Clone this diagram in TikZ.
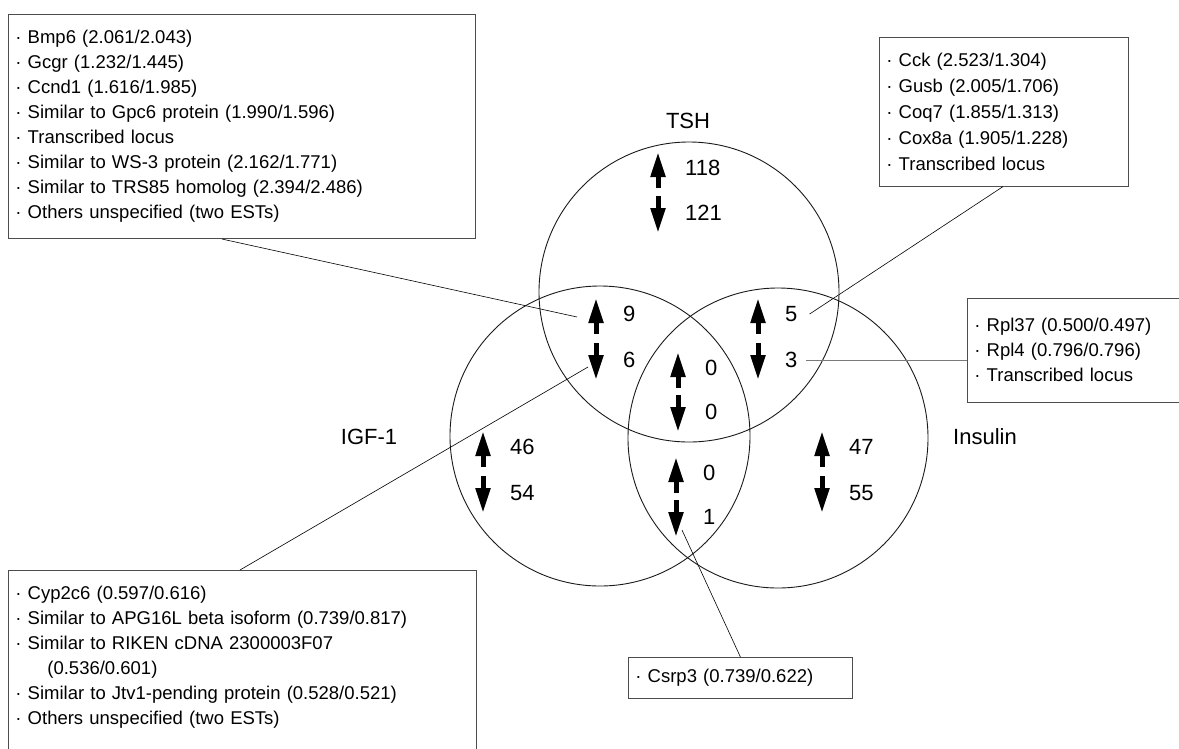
\documentclass[tikz,border=0pt]{standalone}
\usepackage{fontspec}
\setmainfont{Liberation Sans}
\usetikzlibrary{arrows.meta,positioning}
\definecolor{VennLine}{HTML}{1A1A1A}
\definecolor{BoxLine}{HTML}{4D4D4D}
\definecolor{LeadGray}{HTML}{7A7A7A}
\tikzset{
  vennset/.style={circle, draw=VennLine, line width=0.9pt, minimum size=300pt, inner sep=0pt},
  setname/.style={font=\fontsize{22}{26}\selectfont},
  tally/.style={font=\fontsize{22}{26}\selectfont, inner sep=0pt, anchor=west},
  trend/.style={line width=5pt, -{Triangle[width=14pt,length=25pt]}},
  genes/.style={draw=BoxLine, line width=0.8pt, anchor=north west, align=left,
                inner xsep=7pt, inner ysep=16pt, font=\fontsize{18.5}{25}\selectfont},
  leader/.style={draw=black, line width=0.6pt},
}

\begin{document}
\begin{tikzpicture}[x=1pt,y=-1pt]
    \clip (0,0) rectangle (1179,748);
    % the three sets
    \node[vennset] (tsh) at (689,292) {};
    \node[vennset] (igf) at (600,436) {};
    \node[vennset] (ins) at (778,438) {};
    \node[setname] (tshName) at (688,121) {TSH};
    \node[setname] (igfName) at (369,437) {IGF-1};
    \node[setname] (insName) at (985,437) {Insulin};

    % up / down counts per region
    \node[tally] (tshUp) at (685,168) {118};
    \node[tally] (tshDn) at (685,213) {121};
    \node[tally] (tiUp) at (623,314) {9};
    \node[tally] (tiDn) at (623,360) {6};
    \node[tally] (tsUp) at (785,314) {5};
    \node[tally] (tsDn) at (785,360) {3};
    \node[tally] (allUp) at (705,368) {0};
    \node[tally] (allDn) at (705,412) {0};
    \node[tally] (isUp) at (703,473) {0};
    \node[tally] (isDn) at (703,517) {1};
    \node[tally] (igfUp) at (510,447) {46};
    \node[tally] (igfDn) at (510,493) {54};
    \node[tally] (insUp) at (849,447) {47};
    \node[tally] (insDn) at (849,493) {55};

    \draw[trend] ([xshift=-27pt,yshift=-20pt]tshUp.west) -- ++(0,-36);
    \draw[trend] ([xshift=-27pt,yshift=17pt]tshDn.west) -- ++(0,37);
    \draw[trend] ([xshift=-27pt,yshift=-20pt]tiUp.west) -- ++(0,-36);
    \draw[trend] ([xshift=-27pt,yshift=17pt]tiDn.west) -- ++(0,37);
    \draw[trend] ([xshift=-27pt,yshift=-20pt]tsUp.west) -- ++(0,-36);
    \draw[trend] ([xshift=-27pt,yshift=17pt]tsDn.west) -- ++(0,37);
    \draw[trend] ([xshift=-27pt,yshift=-20pt]allUp.west) -- ++(0,-36);
    \draw[trend] ([xshift=-27pt,yshift=17pt]allDn.west) -- ++(0,37);
    \draw[trend] ([xshift=-27pt,yshift=-20pt]isUp.west) -- ++(0,-36);
    \draw[trend] ([xshift=-27pt,yshift=17pt]isDn.west) -- ++(0,37);
    \draw[trend] ([xshift=-27pt,yshift=-20pt]igfUp.west) -- ++(0,-36);
    \draw[trend] ([xshift=-27pt,yshift=17pt]igfDn.west) -- ++(0,37);
    \draw[trend] ([xshift=-27pt,yshift=-20pt]insUp.west) -- ++(0,-36);
    \draw[trend] ([xshift=-27pt,yshift=17pt]insDn.west) -- ++(0,37);

    % gene lists
    \node[genes,text width=453pt] (tshBox) at (8,14) {· Bmp6 (2.061/2.043)\\· Gcgr (1.232/1.445)\\· Ccnd1 (1.616/1.985)\\· Similar to Gpc6 protein (1.990/1.596)\\· Transcribed locus\\· Similar to WS-3 protein (2.162/1.771)\\· Similar to TRS85 homolog (2.394/2.486)\\· Others unspecified (two ESTs)};
    \node[genes,text width=235pt,font=\fontsize{18.5}{25.8}\selectfont] (cckBox) at (879,37) {· Cck (2.523/1.304)\\· Gusb (2.005/1.706)\\· Coq7 (1.855/1.313)\\· Cox8a (1.905/1.228)\\· Transcribed locus};
    \node[genes,text width=300pt,inner ysep=20pt] (rplBox) at (967,298) {· Rpl37 (0.500/0.497)\\· Rpl4 (0.796/0.796)\\· Transcribed locus};
    \node[genes,text width=454pt,text depth=250pt] (igfBox) at (8,570) {· Cyp2c6 (0.597/0.616)\\· Similar to APG16L beta isoform (0.739/0.817)\\· Similar to RIKEN cDNA 2300003F07\\\hspace*{32pt}(0.536/0.601)\\· Similar to Jtv1-pending protein (0.528/0.521)\\· Others unspecified (two ESTs)};
    \node[genes,text width=210pt,inner ysep=12pt] (csrpBox) at (628,657) {· Csrp3 (0.739/0.622)};

    \draw[leader] ([xshift=214pt]tshBox.south west) -- ([xshift=-46pt,yshift=-3pt]tiUp.west);
    \draw[leader] ([xshift=232pt]igfBox.north west) -- ([xshift=-35pt,yshift=-7pt]tiDn.west);
    \draw[leader] ([xshift=124pt]cckBox.south west) -- ([xshift=12pt]tsUp.east);
    \draw[leader,draw=LeadGray] ([xshift=8pt]tsDn.east) -- (rplBox.west |- tsDn.east);
    \draw[leader] (csrpBox.north) -- ([xshift=-21pt,yshift=-13pt]isDn.west);
  \end{tikzpicture}
\end{document}
